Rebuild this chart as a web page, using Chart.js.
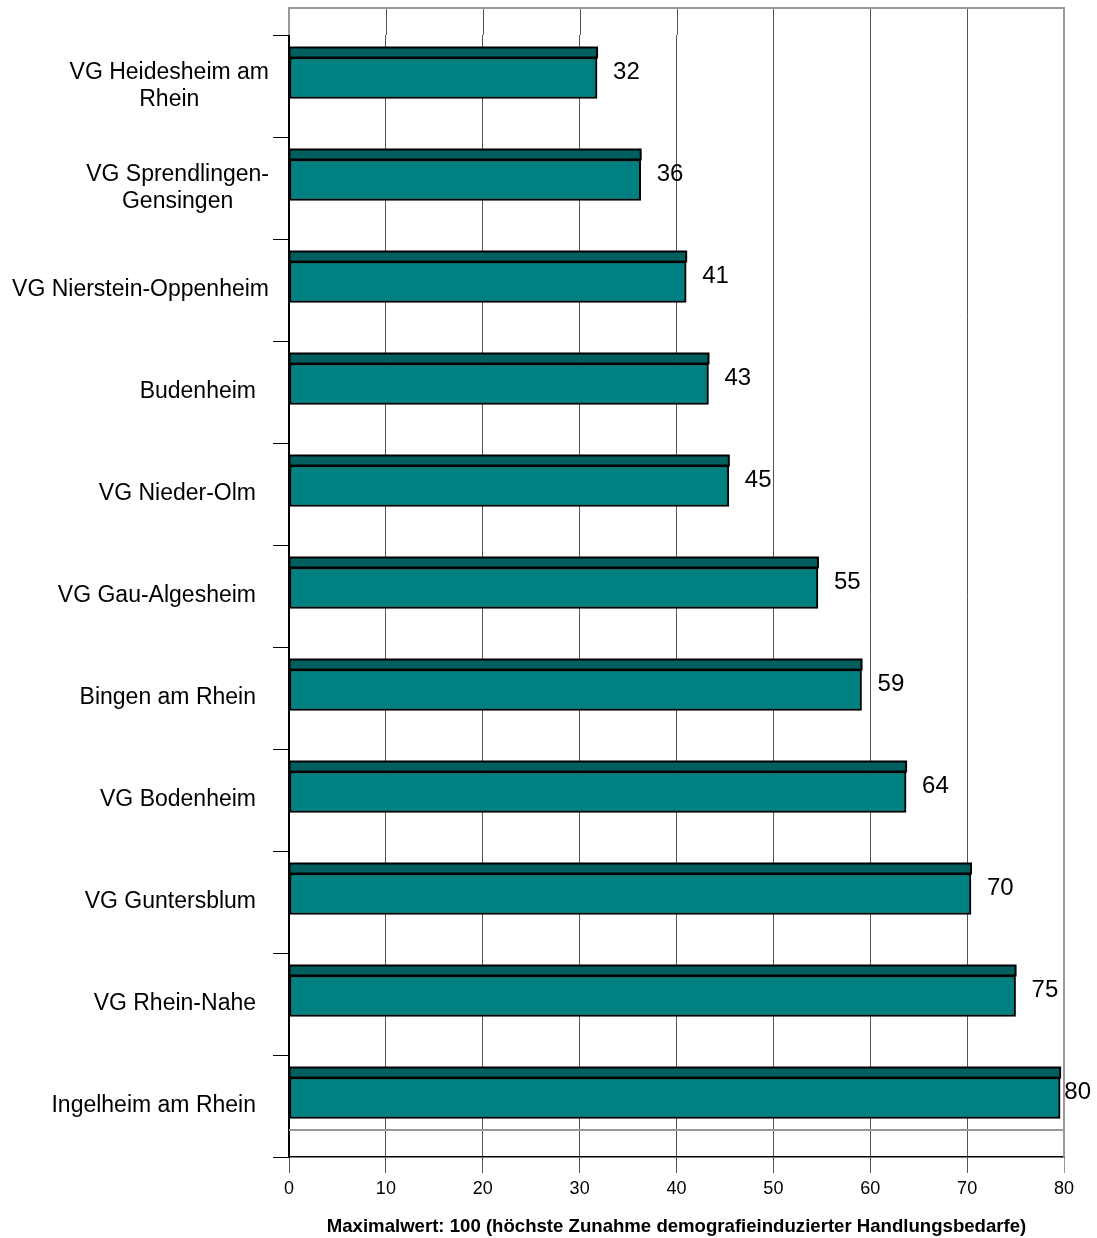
<!DOCTYPE html>
<html>
<head>
<meta charset="utf-8">
<script src="https://cdn.jsdelivr.net/npm/chart.js@4.4.1/dist/chart.umd.min.js"></script>
<style>
  html, body { margin: 0; padding: 0; background: #fff; }
</style>
</head>
<body>
<canvas id="barChart" width="1097" height="1238"></canvas>
<script>
const categories = [
  ['VG Heidesheim am', 'Rhein'],
  ['VG Sprendlingen-', 'Gensingen'],
  'VG Nierstein-Oppenheim',
  'Budenheim',
  'VG Nieder-Olm',
  'VG Gau-Algesheim',
  'Bingen am Rhein',
  'VG Bodenheim',
  'VG Guntersblum',
  'VG Rhein-Nahe',
  'Ingelheim am Rhein'
];
const values = [31.8, 36.3, 41.0, 43.3, 45.4, 54.6, 59.1, 63.7, 70.4, 75.0, 79.6];
const xMin = 0, xMax = 80, xStep = 10;
const axisTitle = 'Maximalwert: 100 (höchste Zunahme demografieinduzierter Handlungsbedarfe)';

const FONT = '"Liberation Sans", Arial, sans-serif';
const DEPTH = 27;      // 3d back wall offset
const BAR_SHIFT = 8;   // front face sits a bit above band centre
const TOP_FACE = 10;

const wall3d = {
  id: 'wall3d',
  beforeDatasetsDraw(chart) {
    const { ctx, chartArea: a, scales: { x } } = chart;
    ctx.save();
    // gridline extensions on the back wall
    ctx.strokeStyle = '#555';
    ctx.lineWidth = 1;
    for (let v = xMin + xStep; v < xMax; v += xStep) {
      const px = Math.round(x.getPixelForValue(v)) + 0.5;
      ctx.beginPath();
      ctx.moveTo(px, a.top - DEPTH);
      ctx.lineTo(px, a.top);
      ctx.stroke();
    }
    // frame
    ctx.strokeStyle = '#999';
    ctx.lineWidth = 2;
    ctx.beginPath();
    ctx.moveTo(a.left, a.top);
    ctx.lineTo(a.left, a.top - DEPTH);
    ctx.lineTo(a.right, a.top - DEPTH);
    ctx.lineTo(a.right, a.bottom);
    ctx.stroke();
    ctx.beginPath();
    ctx.moveTo(a.left, a.bottom - DEPTH);
    ctx.lineTo(a.right, a.bottom - DEPTH);
    ctx.stroke();
    ctx.restore();

    ctx.save();
    ctx.translate(0, -BAR_SHIFT);
  },
  afterDatasetsDraw(chart) {
    const { ctx } = chart;
    const meta = chart.getDatasetMeta(0);
    meta.data.forEach(bar => {
      const top = bar.y - bar.height / 2;
      ctx.fillStyle = '#005f5f';
      ctx.strokeStyle = '#000';
      ctx.lineWidth = 2;
      ctx.fillRect(bar.base, top - TOP_FACE, bar.x - bar.base, TOP_FACE);
      ctx.strokeRect(bar.base, top - TOP_FACE, bar.x - bar.base, TOP_FACE);
    });
    ctx.restore();

    // value labels
    ctx.save();
    ctx.fillStyle = '#000';
    ctx.font = '24px ' + FONT;
    ctx.textAlign = 'left';
    ctx.textBaseline = 'middle';
    meta.data.forEach((bar, i) => {
      const txt = String(Math.round(values[i]));
      const tw = ctx.measureText(txt).width;
      const lx = Math.min(bar.x + 16, chart.width - tw - 6);
      ctx.fillText(txt, lx, bar.y - 14);
    });
    ctx.restore();
  },
  afterDraw(chart) {
    // category labels: lines centred inside their block
    const { ctx, scales: { y } } = chart;
    ctx.save();
    ctx.fillStyle = '#000';
    ctx.font = '23px ' + FONT;
    ctx.textBaseline = 'middle';
    ctx.textAlign = 'center';
    const lh = 27;
    categories.forEach((c, i) => {
      const lines = Array.isArray(c) ? c : [c];
      const w = Math.max(...lines.map(l => ctx.measureText(l).width));
      const right = (lines.length > 1 || w > 240) ? 269 : 256;
      const cx = right - w / 2;
      const cy = y.getPixelForValue(i);
      lines.forEach((l, k) => {
        ctx.fillText(l, cx, cy + (k - (lines.length - 1) / 2) * lh);
      });
    });
    ctx.restore();
  }
};

const ctx = document.getElementById('barChart').getContext('2d');
const chart = new Chart(ctx, {
  type: 'bar',
  data: {
    labels: categories,
    datasets: [{
      data: values,
      backgroundColor: '#008080',
      borderColor: '#000',
      borderWidth: 2,
      borderSkipped: false,
      barThickness: 41
    }]
  },
  options: {
    indexAxis: 'y',
    responsive: false,
    devicePixelRatio: 1,
    animation: false,
    layout: { padding: { top: 35, right: 33, left: 0, bottom: 0 } },
    plugins: {
      legend: { display: false },
      tooltip: { enabled: false }
    },
    scales: {
      x: {
        min: xMin,
        max: xMax,
        ticks: {
          stepSize: xStep,
          color: '#000',
          font: { family: FONT, size: 18 },
          padding: 5
        },
        grid: {
          color: c => (c.tick && c.tick.value === xMax) ? '#999' : '#555',
          lineWidth: 1,
          tickLength: 16
        },
        border: { display: true, color: '#000', width: 1.5 },
        title: {
          display: true,
          text: axisTitle,
          color: '#000',
          font: { family: FONT, size: 18.6, weight: 'bold' },
          padding: { top: 10, bottom: 0 }
        },
        afterFit(scale) { scale.height = 81; }
      },
      y: {
        ticks: { display: false },
        grid: {
          offset: true,
          drawOnChartArea: false,
          tickLength: 16,
          color: '#000'
        },
        border: { display: true, color: '#000', width: 2 },
        afterFit(scale) { scale.width = 289; }
      }
    }
  },
  plugins: [wall3d]
});
</script>
</body>
</html>
